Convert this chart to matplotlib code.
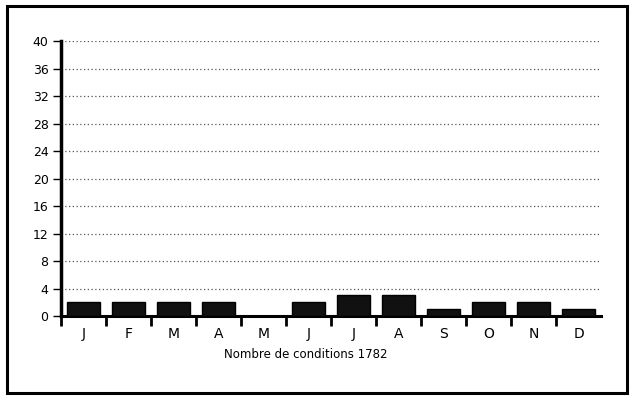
import numpy as np
import matplotlib
matplotlib.use("Agg")
import matplotlib.pyplot as plt
from matplotlib.patches import Rectangle

# ---------- Data ----------
months = ["J", "F", "M", "A", "M", "J", "J", "A", "S", "O", "N", "D"]
counts = [2, 2, 2, 2, 0, 2, 3, 3, 1, 2, 2, 1]
yticks = list(range(0, 41, 4))
xlabel = "Nombre de conditions 1782"

plt.rcParams["font.family"] = ["DejaVu Sans"]

fig = plt.figure(figsize=(6.3, 3.96), dpi=100)
ax = fig.add_axes([0.097, 0.202, 0.857, 0.694])

# outer frame around the whole chart
fig.patches.append(Rectangle((0.011, 0.008), 0.984, 0.977, transform=fig.transFigure,
                             fill=False, edgecolor="black", linewidth=2.2))

x = np.arange(len(months))
ax.bar(x + 0.5, counts, width=0.72, color="#111111", edgecolor="black", zorder=3)

ax.set_xlim(0, len(months))
ax.set_ylim(0, 40)

# dotted horizontal grid
for v in yticks[1:]:
    ax.axhline(v, color="#555555", linestyle=(0, (1, 2)), linewidth=0.9, zorder=1)

ax.set_yticks(yticks)
ax.tick_params(axis="y", direction="out", length=6, width=1, labelsize=9, pad=3)

# ticks at month boundaries (none at the far right), labels in the middle
ax.set_xticks(np.arange(len(months)))
ax.set_xticklabels([])
ax.set_xticks(x + 0.5, minor=True)
ax.set_xticklabels(months, minor=True, fontsize=10)
ax.tick_params(axis="x", which="major", direction="out", length=7, width=2)
ax.tick_params(axis="x", which="minor", length=0, pad=8)

for s in ["top", "right"]:
    ax.spines[s].set_visible(False)
ax.spines["left"].set_linewidth(2.5)
ax.spines["bottom"].set_linewidth(2.2)

fig.text(0.486, 0.106, xlabel, ha="center", va="center", fontsize=8.5)

fig.savefig("out.png", dpi=100)
